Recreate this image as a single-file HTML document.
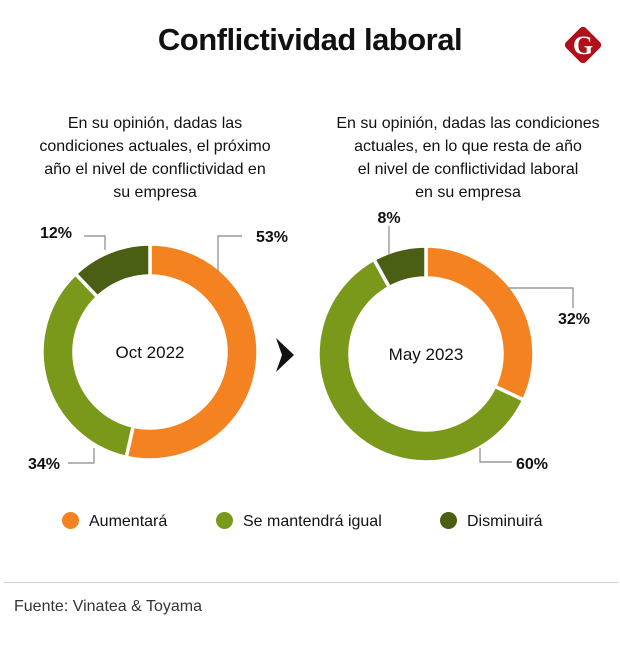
<!DOCTYPE html>
<html><head><meta charset="utf-8"><style>
body{margin:0;width:620px;height:645px;background:#fff;font-family:"Liberation Sans",sans-serif;overflow:hidden;position:relative}
.t{position:absolute;color:#111}
</style></head><body>
<div class="t" style="left:0;width:620px;top:22px;text-align:center;font-size:31px;font-weight:bold;letter-spacing:-0.5px">Conflictividad laboral</div>
<svg style="position:absolute;left:560px;top:22px" width="46" height="46" viewBox="0 0 46 46"><rect x="9" y="9" width="28" height="28" rx="4" transform="rotate(45 23 23)" fill="#b0101a"/><text x="23" y="32" text-anchor="middle" font-family="Liberation Serif" font-weight="bold" font-size="26" fill="#fff">G</text></svg>
<div class="t" style="left:10px;width:290px;top:112px;text-align:center;font-size:16px;line-height:23px">En su opinión, dadas las<br>condiciones actuales, el próximo<br>año el nivel de conflictividad en<br>su empresa</div>
<div class="t" style="left:318px;width:300px;top:112px;text-align:center;font-size:16px;line-height:23px">En su opinión, dadas las condiciones<br>actuales, en lo que resta de año<br>el nivel de conflictividad laboral<br>en su empresa</div>
<svg id="c" width="620" height="645" style="position:absolute;left:0;top:0"></svg>
<div style="position:absolute;top:512px;left:62px;font-size:16px;color:#111">
<span style="position:absolute;left:0;white-space:nowrap"><span style="display:inline-block;width:17px;height:17px;border-radius:50%;background:#f58220;vertical-align:-3px;margin-right:10px"></span>Aumentará</span>
<span style="position:absolute;left:154px;white-space:nowrap"><span style="display:inline-block;width:17px;height:17px;border-radius:50%;background:#7a991a;vertical-align:-3px;margin-right:10px"></span>Se mantendrá igual</span>
<span style="position:absolute;left:378px;white-space:nowrap"><span style="display:inline-block;width:17px;height:17px;border-radius:50%;background:#4a5e14;vertical-align:-3px;margin-right:10px"></span>Disminuirá</span>
</div>
<div style="position:absolute;left:4px;top:582px;width:614px;height:1px;background:#ccc"></div>
<div class="t" style="left:14px;top:598px;font-size:16px;color:#333">Fuente: Vinatea &amp; Toyama</div>
<script>
const categories=["Aumentará","Se mantendrá igual","Disminuirá"];
const colors=["#f58220","#7a991a","#4a5e14"];
const oct2022=[53,34,12];
const may2023=[32,60,8];
const periods=["Oct 2022","May 2023"];
// leader layouts: [line points..., text x, text y, anchor]
const octLeaders=[
 {pts:[[218,272],[218,236],[242,236]],tx:256,ty:242,a:'start'},
 {pts:[[94,448],[94,463],[68,463]],tx:60,ty:469,a:'end'},
 {pts:[[105,250],[105,236],[84,236]],tx:72,ty:238,a:'end'}
];
const mayLeaders=[
 {pts:[[508,288],[573,288],[573,308]],tx:590,ty:324,a:'end'},
 {pts:[[480,448],[480,462],[512,462]],tx:516,ty:469,a:'start'},
 {pts:[[389,255],[389,226]],tx:389,ty:223,a:'middle'}
];
const svg=document.getElementById('c');
const NS='http://www.w3.org/2000/svg';
function mk(t,a){const e=document.createElementNS(NS,t);for(const k in a)e.setAttribute(k,a[k]);svg.appendChild(e);return e;}
function pt(cx,cy,r,f){const a=f*2*Math.PI;return [cx+r*Math.sin(a),cy-r*Math.cos(a)];}
function donut(vals,cx,cy,label,key,leaders){
  const tot=vals.reduce((a,b)=>a+b,0);const R=108,r=76;let acc=0;
  vals.forEach((v,i)=>{
    const f0=acc/tot,f1=(acc+v)/tot;acc+=v;
    const [x0,y0]=pt(cx,cy,R,f0),[x1,y1]=pt(cx,cy,R,f1),[x2,y2]=pt(cx,cy,r,f1),[x3,y3]=pt(cx,cy,r,f0);
    const lg=(f1-f0)>0.5?1:0;
    const p=mk('path',{d:`M${x0},${y0}A${R},${R} 0 ${lg} 1 ${x1},${y1}L${x2},${y2}A${r},${r} 0 ${lg} 0 ${x3},${y3}Z`,fill:colors[i],stroke:'#fff','stroke-width':3.5});
    
    
    const L=leaders[i];
    const l=mk('polyline',{points:L.pts.map(q=>q.join(',')).join(' '),fill:'none',stroke:'#888','stroke-width':1.2});
    
    
    const t=mk('text',{x:L.tx,y:L.ty,'text-anchor':L.a,'font-size':16,'font-weight':'bold',fill:'#111','font-family':'Liberation Sans'});
    t.textContent=v+'%';
    
    
  });
  const c=mk('text',{x:cx,y:cy+6,'text-anchor':'middle','font-size':17,fill:'#111','font-family':'Liberation Sans'});
  c.textContent=label;
  
  
}
donut(oct2022,150,352,periods[0],'oct-2022',octLeaders);
donut(may2023,426,354,periods[1],'may-2023',mayLeaders);
const ar=mk('path',{d:'M276,338 L294,355 L276,372 L282,355 Z',fill:'#111'});


</script>
</body></html>
